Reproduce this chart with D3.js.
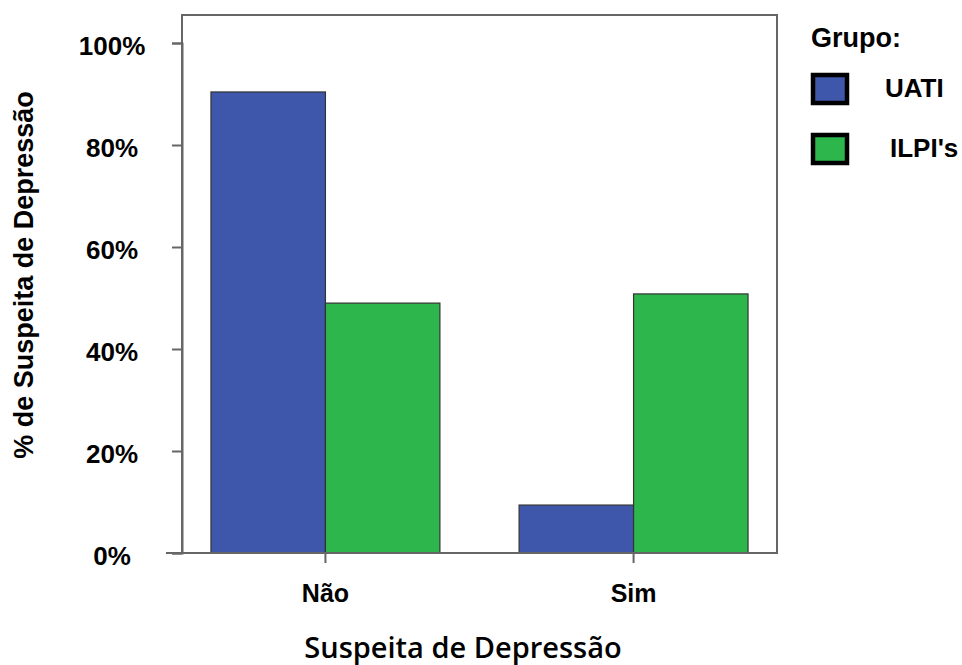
<!DOCTYPE html>
<html><head><meta charset="utf-8">
<script src="https://cdn.jsdelivr.net/npm/d3@7"></script>
<style>body{margin:0;background:#fff;} svg{display:block;}</style>
</head><body>
<script>
const categories = ["Não", "Sim"];
const groups = ["UATI", "ILPI's"];
const uatiValues = [90.4, 9.4];
const ilpiValues = [49.0, 50.8];
const yTicks = [0, 20, 40, 60, 80, 100];
const colors = ["#3F57AA", "#2DB64B"];

const W = 962, H = 665;
const pLeft = 182, pRight = 777, pTop = 15, pBottom = 553;
const FONT = "Liberation Sans, Arial, sans-serif";
const svg = d3.select("body").append("svg").attr("width", W).attr("height", H);

const y = d3.scaleLinear().domain([0, 100]).range([pBottom, 43]);
const x0 = d3.scaleBand().domain(categories).range([pLeft, pRight]).paddingInner(0.257).paddingOuter(0.094);
const x1 = d3.scaleBand().domain(groups).range([0, x0.bandwidth()]);

const data = categories.map((c, i) => ({cat: c, vals: [uatiValues[i], ilpiValues[i]]}));

// frame
svg.append("rect").attr("x", pLeft).attr("y", pTop).attr("width", pRight - pLeft).attr("height", pBottom - pTop)
  .attr("fill", "none").attr("stroke", "#666").attr("stroke-width", 2);

// bars
const g = svg.append("g");
data.forEach(d => {
  d.vals.forEach((v, j) => {
    g.append("rect")
      .attr("x", x0(d.cat) + x1(groups[j]))
      .attr("y", y(v))
      .attr("width", x1.bandwidth())
      .attr("height", y(0) - y(v))
      .attr("fill", colors[j])
      .attr("stroke", "#333").attr("stroke-width", 1.2);
  });
});

// y axis
const yAxis = d3.axisLeft(y).tickValues(yTicks).tickSize(10).tickFormat(d => d + "%");
const ya = svg.append("g").attr("transform", `translate(${pLeft},0)`).call(yAxis);
ya.select(".domain").attr("stroke", "#666").attr("stroke-width", 2);
ya.selectAll(".tick line").attr("stroke", "#666").attr("stroke-width", 2);
ya.selectAll(".tick text").attr("x", -70).attr("text-anchor", "middle").attr("dy", "0.43em")
  .style("font-family", FONT).style("font-weight", "bold")
  .style("font-size", "26px").attr("fill", "#000");

// x axis
const xAxis = d3.axisBottom(x0).tickSize(10).tickSizeOuter(0);
const xa = svg.append("g").attr("transform", `translate(0,${pBottom})`).call(xAxis);
xa.select(".domain").remove();
xa.append("line").attr("x1", 166).attr("x2", pRight).attr("y1", 0).attr("y2", 0)
  .attr("stroke", "#666").attr("stroke-width", 2);
xa.selectAll(".tick line").attr("stroke", "#666").attr("stroke-width", 2);
xa.selectAll(".tick text").attr("y", 49).attr("dy", 0)
  .style("font-family", FONT).style("font-weight", "bold")
  .style("font-size", "25px").attr("fill", "#000");

// axis titles
svg.append("text").attr("x", 463).attr("y", 658).attr("text-anchor", "middle")
  .style("font-family", "Open Sans, sans-serif").style("font-weight", 600).style("font-size", "29px")
  .text("Suspeita de Depressão");
svg.append("text").attr("transform", "translate(33,275) rotate(-90)").attr("text-anchor", "middle")
  .style("font-family", FONT).style("font-weight", "bold").style("font-size", "27px")
  .text("% de Suspeita de Depressão");

// legend
svg.append("text").attr("x", 811).attr("y", 47)
  .style("font-family", FONT).style("font-weight", "bold").style("font-size", "27px")
  .text("Grupo:");
const legY = [73, 133];
const legTextX = [885, 890];
groups.forEach((gname, j) => {
  svg.append("rect").attr("x", 813).attr("y", legY[j] + 2).attr("width", 34).attr("height", 28)
    .attr("fill", colors[j]).attr("stroke", "#000").attr("stroke-width", 4.5);
  svg.append("text").attr("x", legTextX[j]).attr("y", legY[j] + 24)
    .style("font-family", FONT).style("font-weight", "bold").style("font-size", "26px")
    .text(gname);
});
</script>
</body></html>
